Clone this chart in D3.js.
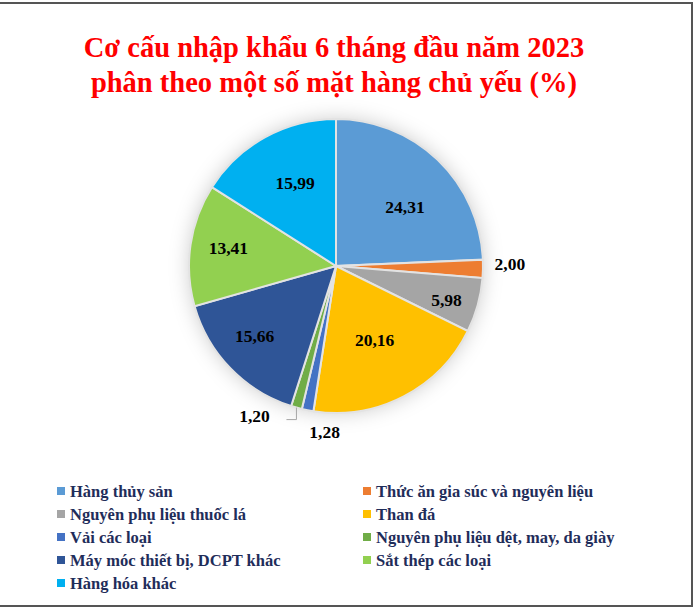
<!DOCTYPE html>
<html>
<head>
<meta charset="utf-8">
<script src="https://cdn.jsdelivr.net/npm/d3@7"></script>
<style>
  body { margin: 0; background: #fff; }
  svg { display: block; }
</style>
</head>
<body>
<svg width="697" height="608"></svg>
<script>
const categories = [
  "Hàng thủy sản",
  "Thức ăn gia súc và nguyên liệu",
  "Nguyên phụ liệu thuốc lá",
  "Than đá",
  "Vải các loại",
  "Nguyên phụ liệu dệt, may, da giày",
  "Máy móc thiết bị, DCPT khác",
  "Sắt thép các loại",
  "Hàng hóa khác"
];
const values = [24.31, 2.00, 5.98, 20.16, 1.28, 1.20, 15.66, 13.41, 15.99];
const colors = ["#5b9bd5", "#ed7d31", "#a5a5a5", "#ffc000", "#4472c4",
                "#70ad47", "#2f5597", "#92d050", "#00b0f0"];
const titleLines = ["Cơ cấu nhập khẩu 6 tháng đầu năm 2023",
                    "phân theo một số mặt hàng chủ yếu (%)"];

const svg = d3.select("svg");
const fmt = v => v.toFixed(2).replace(".", ",");

// frame
svg.append("path")
  .attr("d", "M0,3 H692 V606 H0")
  .attr("fill", "none")
  .attr("stroke", "#555")
  .attr("stroke-width", 2);

// title
svg.append("g").selectAll("text")
  .data(titleLines)
  .join("text")
  .attr("x", 334)
  .attr("y", (d, i) => 57 + i * 35)
  .attr("text-anchor", "middle")
  .attr("font-family", "Liberation Serif, Times New Roman, serif")
  .attr("font-weight", "bold")
  .attr("font-size", 28.5)
  .attr("fill", "#ff0000")
  .text(d => d);

// pie
const cx = 336, cy = 266, r = 147;
const defs = svg.append("defs");
const f = defs.append("filter").attr("id", "sh")
  .attr("x", "-30%").attr("y", "-30%").attr("width", "160%").attr("height", "160%");
f.append("feDropShadow").attr("dx", 0).attr("dy", 0)
  .attr("stdDeviation", 10).attr("flood-color", "#000").attr("flood-opacity", 0.2);

const pie = d3.pie().sort(null).value(d => d);
const arcs = pie(values);
const arc = d3.arc().innerRadius(0).outerRadius(r);

const g = svg.append("g").attr("transform", `translate(${cx},${cy})`);
g.append("circle").attr("r", r).attr("fill", "#fff").attr("filter", "url(#sh)");
g.selectAll("path.slice")
  .data(arcs)
  .join("path")
  .attr("class", "slice")
  .attr("d", arc)
  .attr("fill", (d, i) => colors[i])
  .attr("stroke", "#e3e3e3")
  .attr("stroke-width", 2);

// label positions (radius factor per slice, plus a small nudge)
const labelR = [0.62, 1.21, 0.78, 0.57, 1.14, 1.0, 0.6, 0.74, 0.62];
const labelShift = [[6, 7], [-4, -6], [0, 3], [0, 0], [21, 1], [-42, 8], [-18, 9], [0, -2], [3, -3]];
g.selectAll("text.lbl")
  .data(arcs)
  .join("text")
  .attr("class", "lbl")
  .attr("x", (d, i) => {
    const a = (d.startAngle + d.endAngle) / 2;
    return Math.sin(a) * r * labelR[i] + labelShift[i][0];
  })
  .attr("y", (d, i) => {
    const a = (d.startAngle + d.endAngle) / 2;
    return -Math.cos(a) * r * labelR[i] + labelShift[i][1];
  })
  .attr("dy", "0.35em")
  .attr("text-anchor", "middle")
  .attr("font-family", "Liberation Serif, Times New Roman, serif")
  .attr("font-weight", "bold")
  .attr("font-size", 17.5)
  .attr("fill", "#000")
  .text((d, i) => fmt(values[i]));

// leader line for the small textile slice
const small = arcs[5];
const sa = (small.startAngle + small.endAngle) / 2;
const ex = Math.sin(sa) * r * 1.0, ey = -Math.cos(sa) * r * 1.0;
g.append("path")
  .attr("d", `M${ex},${ey} V${ey + 12} H${ex - 10}`)
  .attr("fill", "none")
  .attr("stroke", "#a6a6a6")
  .attr("stroke-width", 1);

// legend
const legend = svg.append("g");
const items = legend.selectAll("g")
  .data(categories)
  .join("g")
  .attr("transform", (d, i) => `translate(${i % 2 === 0 ? 57 : 363},${491 + Math.floor(i / 2) * 23})`);
items.append("rect")
  .attr("x", 0).attr("y", -4)
  .attr("width", 8).attr("height", 8)
  .attr("fill", (d, i) => colors[i]);
items.append("text")
  .attr("x", 13)
  .attr("dy", "0.35em")
  .attr("font-family", "Liberation Serif, Times New Roman, serif")
  .attr("font-weight", "bold")
  .attr("font-size", 16.5)
  .attr("fill", "#1f2d5a")
  .text(d => d);
</script>
</body>
</html>
